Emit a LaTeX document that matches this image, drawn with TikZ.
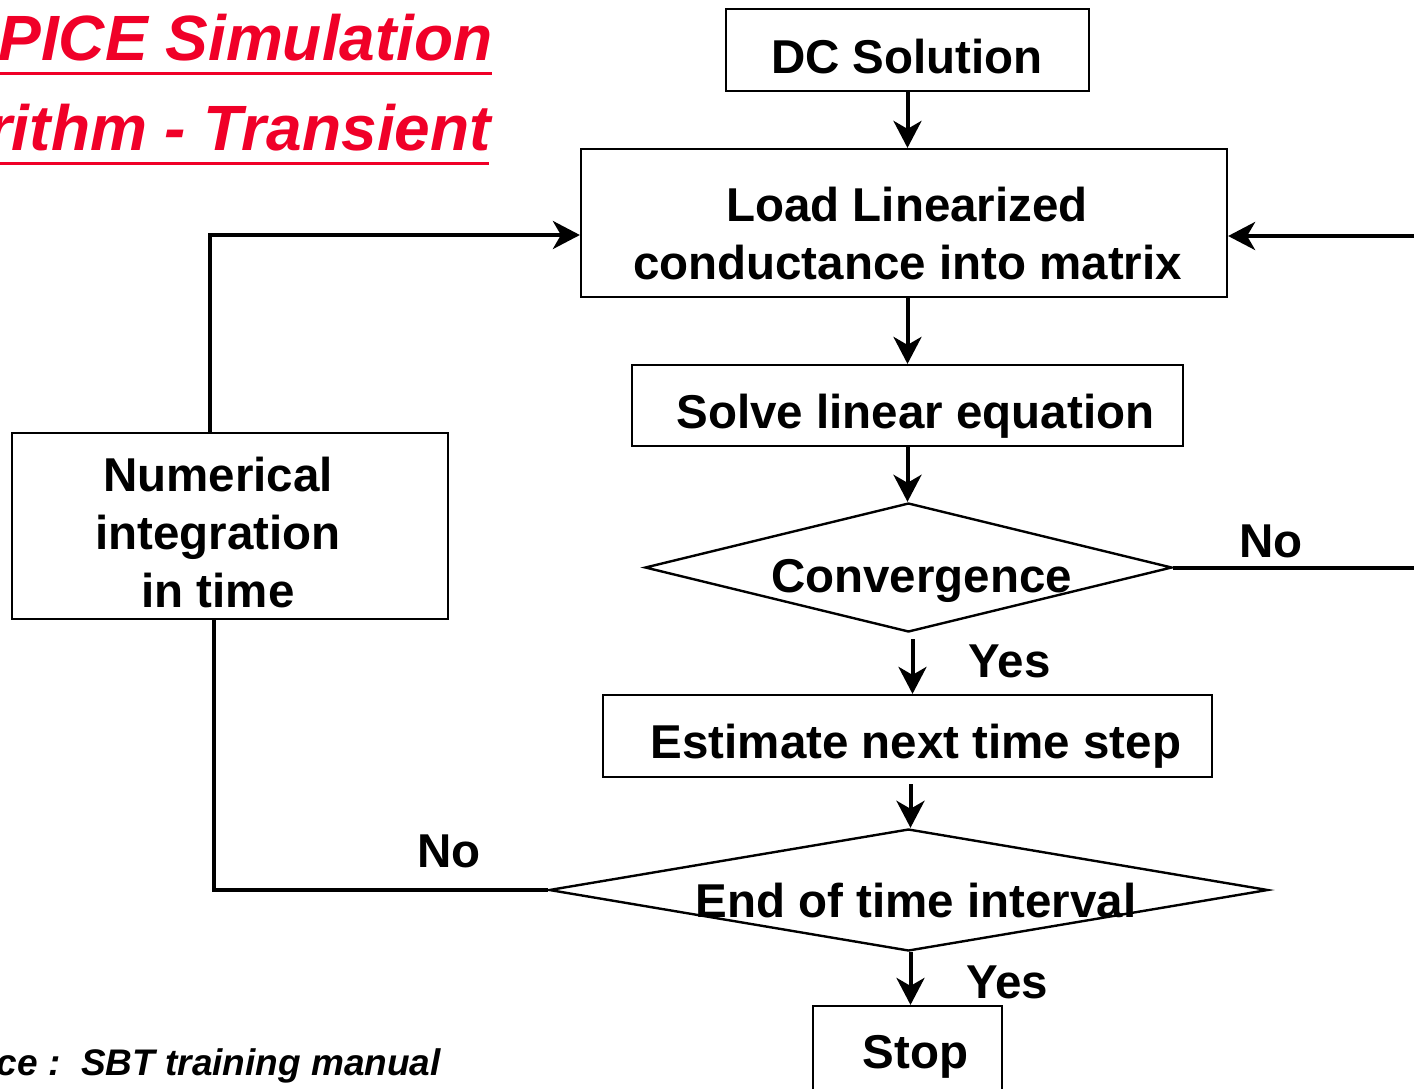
\documentclass[tikz,border=0pt]{standalone}
\usepackage{fontspec}
\setmainfont{Liberation Sans}
\usetikzlibrary{shapes.geometric,arrows.meta,calc}
\definecolor{titlered}{RGB}{240,0,40}
\tikzset{
  box/.style={draw,line width=2.2pt,inner sep=0pt},
  dia/.style={draw,diamond,line width=2.4pt,inner sep=0pt},
  txt/.style={inner sep=0pt,anchor=base,font=\fontsize{47.5}{59}\selectfont\bfseries},
  conn/.style={line width=4pt},
  arr/.style={conn,-{Stealth[length=27pt,width=28pt,inset=8pt]}},
  ttl/.style={inner sep=0pt,anchor=base east,text=titlered,font=\fontsize{64}{70}\selectfont\bfseries\itshape},
}
\begin{document}
\begin{tikzpicture}[x=1pt,y=-1pt]
\useasboundingbox (0,0) rectangle (1414,1088);
\clip (0,0) rectangle (1414,1088);
% title
\node[ttl] (t1) at (493,60) {PICE Simulation};
\node[ttl] (t2) at (491,150) {rithm - Transient};
\draw[titlered,line width=3pt] (0,73) -- (492,73);
\draw[titlered,line width=3pt] (0,163) -- (489,163);
% footer
\node[inner sep=0pt,anchor=base east,font=\fontsize{37}{40}\selectfont\bfseries\itshape] (src) at (441,1075) {ce :\ \ SBT training manual};
% boxes
\node[box,minimum width=363pt,minimum height=82pt] (dc) at (907.5,50) {};
\node[box,minimum width=646pt,minimum height=148pt] (load) at (904,223) {};
\node[box,minimum width=551pt,minimum height=81pt] (solve) at (907.5,405.5) {};
\node[dia,minimum width=527pt,minimum height=129pt] (conv) at (908.5,567.5) {};
\node[box,minimum width=609pt,minimum height=82pt] (est) at (907.5,736) {};
\node[dia,minimum width=719pt,minimum height=122pt] (end) at (908.5,890) {};
\node[box,minimum width=189pt,minimum height=100pt] (stop) at (907.5,1056) {};
\node[box,minimum width=436pt,minimum height=186pt] (num) at (230,526) {};
% texts
\node[txt] (dct) at (907,73) {DC Solution};
\node[txt] (loadt1) at (907,221) {Load Linearized};
\node[txt] (loadt2) at (907.5,279) {conductance into matrix};
\node[txt] (solvet) at (915.5,428) {Solve linear equation};
\node[txt] (convt) at (921.5,592) {Convergence};
\node[txt] (esttt) at (916,758) {Estimate next time step};
\node[txt] (endt) at (916,917) {End of time interval};
\node[txt] (stopt) at (915.5,1068) {Stop};
\node[txt] (numt1) at (218,491) {Numerical};
\node[txt] (numt2) at (218,549) {integration};
\node[txt] (numt3) at (218,607) {in time};
\node[txt] (yes1) at (1009.5,677) {Yes};
\node[txt] (yes2) at (1007,998) {Yes};
\node[txt] (no1) at (1271,557) {No};
\node[txt] (no2) at (449,867) {No};
% connectors
\draw[arr] (dc.south) -- (dc.south |- load.north);
\draw[arr] (load.south -| dc.south) -- (solve.north);
\draw[arr] (solve.south) -- (solve.south |- conv.north);
\coordinate (c1) at ($(conv.south)+(4,6)$);
\draw[arr] (c1) -- (c1 |- est.north);
\coordinate (c2) at ($(est.south)+(3,6)$);
\draw[arr] (c2) -- (c2 |- end.north);
\coordinate (c3) at ($(end.south)+(2,0)$);
\draw[arr] (c3) -- (c3 |- stop.north);
% No from convergence (loops back off the right edge)
\coordinate (r1) at (1440,567.5);
\coordinate (r2) at (1440,236);
\draw[arr] (conv.east) -- (r1) -- (r2) -- (r2 -| load.east);
% No from end of time interval
\coordinate (l1) at ($(num.south)+(-16,0)$);
\draw[conn] (end.west) -- (end.west -| l1) -- (l1);
\coordinate (l2) at ($(num.north)+(-20,0)$);
\coordinate (l3) at (210,235);
\draw[arr] (l2) -- (l3) -- (l3 -| load.west);
\end{tikzpicture}
\end{document}
